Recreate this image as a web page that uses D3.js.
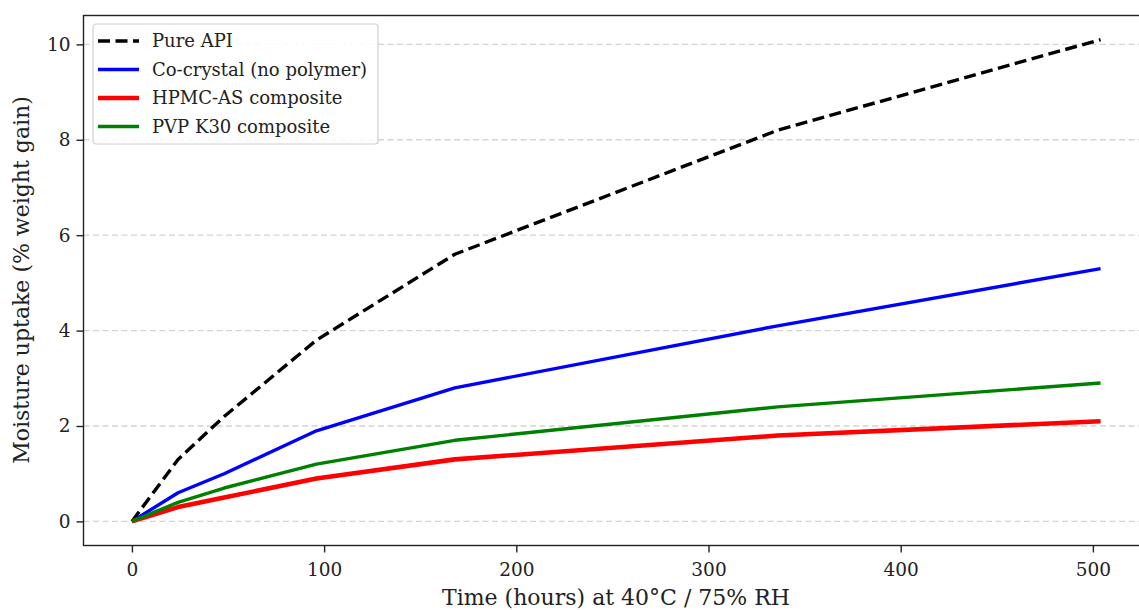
<!DOCTYPE html>
<html>
<head>
<meta charset="utf-8">
<script src="https://cdn.jsdelivr.net/npm/d3@7"></script>
<style>
  body { margin: 0; background: #fff; }
  svg { font-family: "DejaVu Serif", serif; }
</style>
</head>
<body>
<svg width="1139" height="610"></svg>
<script>
// hours at 40°C / 75% RH
var hours = [0, 24, 48, 96, 168, 336, 504];

var pureApi   = [0, 1.3, 2.2, 3.8, 5.6, 8.2, 10.1];
var coCrystal = [0, 0.6, 1.0, 1.9, 2.8, 4.1, 5.3];
var hpmcAs    = [0, 0.3, 0.5, 0.9, 1.3, 1.8, 2.1];
var pvpK30    = [0, 0.4, 0.7, 1.2, 1.7, 2.4, 2.9];

var seriesNames = ["Pure API", "Co-crystal (no polymer)", "HPMC-AS composite", "PVP K30 composite"];
var xTicks = [0, 100, 200, 300, 400, 500];
var yTicks = [0, 2, 4, 6, 8, 10];

var series = [
    { name: seriesNames[0], values: pureApi,   color: "#000000", width: 3.4, dash: "12,5.5" },
    { name: seriesNames[1], values: coCrystal, color: "#0000ff", width: 3.4, dash: null },
    { name: seriesNames[2], values: hpmcAs,    color: "#ff0000", width: 4.6, dash: null },
    { name: seriesNames[3], values: pvpK30,    color: "#008000", width: 3.4, dash: null }
];

var margin = { left: 83.5, top: 15.5, right: 1149, bottom: 545.5 };

var svg = d3.select("svg");

// matplotlib-like 5% padding
var xMax = d3.max(hours), yMax = d3.max(pureApi);
var x = d3.scaleLinear()
    .domain([-0.05 * xMax, xMax * 1.05])
    .range([margin.left, margin.right]);
var y = d3.scaleLinear()
    .domain([-0.05 * yMax, yMax * 1.05])
    .range([margin.bottom, margin.top]);

// grid
svg.append("g")
    .selectAll("line")
    .data(yTicks).enter()
    .append("line")
    .attr("x1", margin.left)
    .attr("x2", margin.right)
    .attr("y1", function (d) { return y(d); })
    .attr("y2", function (d) { return y(d); })
    .attr("stroke", "#d4d4d4")
    .attr("stroke-width", 1.3)
    .attr("stroke-dasharray", "6,3.5");

var line = d3.line()
    .x(function (d, i) { return x(hours[i]); })
    .y(function (d) { return y(d); });

svg.append("g")
    .selectAll("path")
    .data(series).enter()
    .append("path")
    .attr("d", function (s) { return line(s.values); })
    .attr("fill", "none")
    .attr("stroke", function (s) { return s.color; })
    .attr("stroke-width", function (s) { return s.width; })
    .attr("stroke-dasharray", function (s) { return s.dash; })
    .attr("stroke-linejoin", "round");

// axes
var xAxis = svg.append("g")
    .attr("transform", "translate(0," + margin.bottom + ")")
    .call(d3.axisBottom(x).tickValues(xTicks).tickSize(7).tickPadding(10));
var yAxis = svg.append("g")
    .attr("transform", "translate(" + margin.left + ",0)")
    .call(d3.axisLeft(y).tickValues(yTicks).tickSize(7).tickPadding(6));

[xAxis, yAxis].forEach(function (a) {
    a.select(".domain").remove();
    a.selectAll(".tick line").attr("stroke", "#222").attr("stroke-width", 1.4);
    a.selectAll("text")
        .attr("font-family", "DejaVu Serif")
        .attr("font-size", 18.5)
        .attr("fill", "#222");
});

// frame
svg.append("rect")
    .attr("x", margin.left)
    .attr("y", margin.top)
    .attr("width", margin.right - margin.left)
    .attr("height", margin.bottom - margin.top)
    .attr("fill", "none")
    .attr("stroke", "#222")
    .attr("stroke-width", 1.4);

// labels
svg.append("text")
    .attr("x", 616)
    .attr("y", 605)
    .attr("text-anchor", "middle")
    .attr("font-size", 22)
    .attr("fill", "#222")
    .text("Time (hours) at 40°C / 75% RH");

svg.append("text")
    .attr("transform", "translate(29,280) rotate(-90)")
    .attr("text-anchor", "middle")
    .attr("font-size", 22)
    .attr("fill", "#222")
    .text("Moisture uptake (% weight gain)");

// legend
var legend = svg.append("g").attr("transform", "translate(93,24)");
legend.append("rect")
    .attr("width", 285)
    .attr("height", 120)
    .attr("rx", 3)
    .attr("fill", "#fff")
    .attr("fill-opacity", 0.85)
    .attr("stroke", "#d0d0d0")
    .attr("stroke-width", 1.2);

var items = legend.selectAll("g.item")
    .data(series).enter()
    .append("g")
    .attr("class", "item")
    .attr("transform", function (d, i) { return "translate(0," + (17 + i * 28.5) + ")"; });
items.append("line")
    .attr("x1", 5).attr("x2", 46)
    .attr("stroke", function (s) { return s.color; })
    .attr("stroke-width", function (s) { return s.width; })
    .attr("stroke-dasharray", function (s) { return s.dash; });
items.append("text")
    .attr("x", 59)
    .attr("dy", "0.35em")
    .attr("font-size", 18)
    .attr("fill", "#222")
    .text(function (s) { return s.name; });
</script>
</body>
</html>
